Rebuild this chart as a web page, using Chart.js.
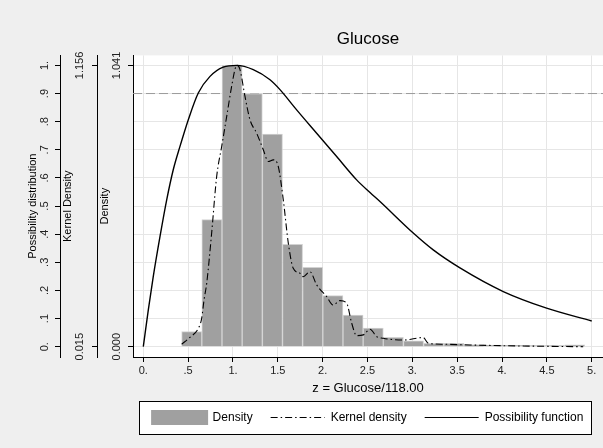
<!DOCTYPE html>
<html>
  <head>
    <meta charset="utf-8" />
    <title>Glucose</title>
    <style>
      html, body { margin: 0; padding: 0; background: #efefef; }
      canvas { display: block; }
    </style>
  </head>
  <body>
    <canvas id="chart" width="603" height="448"></canvas>
    <script src="https://cdn.jsdelivr.net/npm/chart.js@4.4.1/dist/chart.umd.min.js"></script>
    <script>
      // histogram bins (centres) and densities
      const binCenters = [0.540, 0.765, 0.990, 1.215, 1.440, 1.664, 1.889, 2.114, 2.339, 2.564,
                          2.788, 3.013, 3.238, 3.463, 3.688, 3.912, 4.137, 4.362, 4.587, 4.811];
      const densityVals = [0.056, 0.470, 1.041, 0.937, 0.787, 0.379, 0.294, 0.189, 0.117, 0.069,
                           0.035, 0.022, 0.012, 0.012, 0.008, 0.006, 0.005, 0.004, 0.004, 0.007];

      // kernel density curve (its own axis, 0.015 .. 1.156)
      const kernelX = [0.428, 0.52, 0.613, 0.651, 0.677, 0.707, 0.762, 0.818, 0.874, 0.930, 0.985, 1.033, 1.048,
                       1.078, 1.134, 1.190, 1.264, 1.338, 1.394, 1.449, 1.505, 1.561, 1.617, 1.672, 1.747, 1.784,
                       1.858, 1.933, 2.045, 2.117, 2.193, 2.268, 2.324, 2.379, 2.453, 2.528, 2.602, 2.676, 2.75,
                       2.899, 3.122, 3.178, 3.345, 3.642, 4.014, 4.386, 4.905];
      const kernelY = [0.025, 0.053, 0.089, 0.130, 0.204, 0.272, 0.475, 0.705, 0.827, 0.949, 1.071, 1.152, 1.156,
                       1.139, 1.030, 0.935, 0.881, 0.814, 0.766, 0.773, 0.746, 0.611, 0.435, 0.333, 0.313, 0.299,
                       0.319, 0.266, 0.218, 0.184, 0.202, 0.191, 0.110, 0.060, 0.063, 0.086, 0.056, 0.049, 0.045,
                       0.042, 0.052, 0.029, 0.025, 0.022, 0.019, 0.017, 0.015];

      // possibility function
      const possX = [0, 0.056, 0.111, 0.186, 0.261, 0.334, 0.409, 0.502, 0.613, 0.744, 0.892, 1.041, 1.226,
                     1.413, 1.524, 1.71, 1.933, 2.156, 2.379, 2.528, 2.639, 3.01, 3.233, 3.531, 4.014, 4.497, 5.0];
      const possY = [0, 0.131, 0.249, 0.391, 0.522, 0.629, 0.712, 0.807, 0.902, 0.961, 0.994, 1.0, 0.985,
                     0.949, 0.914, 0.842, 0.759, 0.676, 0.593, 0.548, 0.516, 0.404, 0.344, 0.28, 0.196, 0.137, 0.0915];

      const refLevel = 0.9;
      const xTicks = [0, 0.5, 1, 1.5, 2, 2.5, 3, 3.5, 4, 4.5, 5];
      const xTickLabels = ["0.", ".5", "1.", "1.5", "2.", "2.5", "3.", "3.5", "4.", "4.5", "5."];
      const possTicks = [0, 0.1, 0.2, 0.3, 0.4, 0.5, 0.6, 0.7, 0.8, 0.9, 1];
      const possTickLabels = ["0.", ".1", ".2", ".3", ".4", ".5", ".6", ".7", ".8", ".9", "1."];
      const kernTicks = [0.015, 1.156];
      const densTicks = [0, 1.041];

      const X_MIN = -0.1148, X_MAX = 5.126;
      const P_MIN = -0.03665, P_MAX = 1.0356;
      const FONT = "'Liberation Sans', Arial, sans-serif";

      const zip = (xs, ys) => xs.map((x, i) => ({ x: x, y: ys[i] }));
      const fixTicks = (vals) => (scale) => { scale.ticks = vals.map((v) => ({ value: v })); };
      const fixWidth = (w) => (scale) => { scale.width = w; };

      const bgPlugin = {
        id: "bg",
        beforeDraw(chart) {
          const ctx = chart.ctx;
          const a = chart.chartArea;
          ctx.save();
          ctx.fillStyle = "#efefef";
          ctx.fillRect(0, 0, chart.width, chart.height);
          ctx.fillStyle = "#ffffff";
          ctx.fillRect(a.left, a.top, a.right - a.left, a.bottom - a.top);
          // legend frame
          ctx.strokeStyle = "#000000";
          ctx.lineWidth = 1;
          const lx = Math.round(a.left + 6) + 0.5, ly = Math.round(a.bottom + 44) + 0.5;
          const lw = Math.round(a.right - a.left - 18), lh = 33;
          ctx.fillRect(lx, ly, lw, lh);
          ctx.strokeRect(lx, ly, lw, lh);
          ctx.restore();
        },
      };

      const ctx = document.getElementById("chart").getContext("2d");
      const myChart = new Chart(ctx, {
        data: {
          datasets: [
            {
              type: "line",
              label: "ref",
              data: [{ x: X_MIN, y: refLevel }, { x: X_MAX, y: refLevel }],
              yAxisID: "yP",
              borderColor: "#9a9a9a",
              borderWidth: 1,
              borderDash: [9, 4],
              pointRadius: 0,
              order: 4,
            },
            {
              type: "bar",
              label: "Density",
              data: zip(binCenters, densityVals),
              yAxisID: "yD",
              backgroundColor: "#a0a0a0",
              borderColor: "#d2d2d2",
              borderWidth: 1,
              barPercentage: 1,
              categoryPercentage: 1,
              order: 3,
            },
            {
              type: "line",
              label: "Kernel density",
              data: zip(kernelX, kernelY),
              yAxisID: "yK",
              borderColor: "#000000",
              borderWidth: 1.1,
              borderDash: [7, 3, 1.5, 3],
              pointRadius: 0,
              cubicInterpolationMode: "monotone",
              order: 2,
            },
            {
              type: "line",
              label: "Possibility function",
              data: zip(possX, possY),
              yAxisID: "yP",
              borderColor: "#000000",
              borderWidth: 1.4,
              pointRadius: 0,
              cubicInterpolationMode: "monotone",
              order: 1,
            },
          ],
        },
        options: {
          responsive: false,
          animation: false,
          layout: { padding: { left: 0, right: 0, top: 0, bottom: 14.5 } },
          plugins: {
            tooltip: { enabled: false },
            title: {
              display: true,
              text: "Glucose",
              fullSize: false,
              color: "#000000",
              font: { family: FONT, size: 17, weight: "normal" },
              padding: { top: 29, bottom: 6 },
            },
            legend: {
              position: "bottom",
              fullSize: false,
              labels: {
                usePointStyle: true,
                pointStyleWidth: 54,
                padding: 18,
                color: "#000000",
                font: { family: FONT, size: 12 },
                generateLabels: () => [
                  { text: "Density", pointStyle: "rect", fillStyle: "#a0a0a0", strokeStyle: "#a0a0a0", lineWidth: 3, datasetIndex: 1, fontColor: "#000" },
                  { text: "Kernel density", pointStyle: "line", fillStyle: "#000", strokeStyle: "#000", lineWidth: 1, lineDash: [7, 3, 1.5, 3], datasetIndex: 2, fontColor: "#000" },
                  { text: "Possibility function", pointStyle: "line", fillStyle: "#000", strokeStyle: "#000", lineWidth: 1.2, datasetIndex: 3, fontColor: "#000" },
                ],
              },
            },
          },
          scales: {
            x: {
              type: "linear",
              position: "bottom",
              offset: false,
              min: X_MIN,
              max: X_MAX,
              afterBuildTicks: fixTicks(xTicks),
              afterFit: (scale) => { scale.height = 36.5; },
              grid: { offset: false, color: "#e6e6e6", tickColor: "#000000", tickLength: 5 },
              border: { display: true, color: "#000000", width: 1 },
              ticks: {
                padding: 2,
                color: "#222222",
                maxRotation: 0,
                font: { family: FONT, size: 11 },
                callback: (v) => xTickLabels[xTicks.indexOf(v)],
              },
              title: {
                display: true,
                text: "z = Glucose/118.00",
                color: "#000000",
                font: { family: FONT, size: 13 },
                padding: { top: 0, bottom: -2.3 },
              },
            },
            yP: {
              type: "linear",
              position: "left",
              weight: 2,
              min: P_MIN,
              max: P_MAX,
              afterBuildTicks: fixTicks(possTicks),
              afterFit: fixWidth(60),
              grid: { color: "#e6e6e6", tickColor: "#000000", tickLength: 5 },
              border: { display: true, color: "#000000", width: 1 },
              ticks: {
                minRotation: 90,
                maxRotation: 90,
                crossAlign: "center",
                padding: 5,
                color: "#222222",
                font: { family: FONT, size: 11 },
                callback: (v) => possTickLabels[possTicks.indexOf(v)],
              },
              title: {
                display: true,
                text: "Possibility distribution",
                color: "#000000",
                font: { family: FONT, size: 11 },
                padding: { top: 26, bottom: 0 },
              },
            },
            yK: {
              type: "linear",
              position: "left",
              weight: 1,
              min: 0.015 + P_MIN * 1.141,
              max: 0.015 + P_MAX * 1.141,
              afterBuildTicks: fixTicks(kernTicks),
              afterFit: fixWidth(37),
              grid: { drawOnChartArea: false, tickColor: "#000000", tickLength: 5 },
              border: { display: true, color: "#000000", width: 1 },
              ticks: {
                minRotation: 90,
                maxRotation: 90,
                crossAlign: "center",
                padding: -2,
                color: "#222222",
                font: { family: FONT, size: 11 },
                callback: (v) => v.toFixed(3),
              },
              title: {
                display: true,
                text: "Kernel Density",
                color: "#000000",
                font: { family: FONT, size: 11 },
                padding: { top: 1.5, bottom: 0 },
              },
            },
            yD: {
              type: "linear",
              position: "left",
              weight: 0,
              min: P_MIN * 1.041,
              max: P_MAX * 1.041,
              afterBuildTicks: fixTicks(densTicks),
              afterFit: fixWidth(36),
              grid: { drawOnChartArea: false, tickColor: "#000000", tickLength: 5 },
              border: { display: true, color: "#000000", width: 1 },
              ticks: {
                minRotation: 90,
                maxRotation: 90,
                crossAlign: "center",
                padding: -2.5,
                color: "#222222",
                font: { family: FONT, size: 11 },
                callback: (v) => v.toFixed(3),
              },
              title: {
                display: true,
                text: "Density",
                color: "#000000",
                font: { family: FONT, size: 11 },
                padding: { top: 1.5, bottom: 0 },
              },
            },
          },
        },
        plugins: [bgPlugin],
      });
    </script>
  </body>
</html>
